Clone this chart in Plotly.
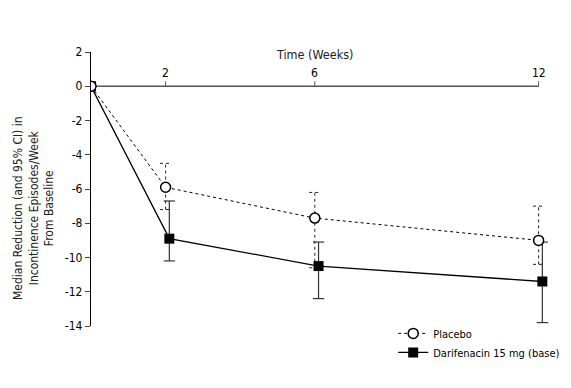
import plotly.graph_objects as go

weeks = [0, 2, 6, 12]
x_ticks = [2, 6, 12]
y_ticks = [2, 0, -2, -4, -6, -8, -10, -12, -14]
y_tick_labels = ["2", "0", "-2", "-4", "-6", "-8", "-10", "-12", "-14"]

placebo = [0, -5.9, -7.7, -9.0]
placebo_hi = [0, -4.5, -6.2, -7.0]
placebo_lo = [0, -7.2, -10.6, -10.4]

drug = [0, -8.9, -10.5, -11.4]
drug_hi = [0, -6.7, -9.1, -9.1]
drug_lo = [0, -10.2, -12.4, -13.8]

drug_offset = 0.1
cap = 0.15

FONT = "Liberation Sans Narrow, DejaVu Sans Condensed, Arial Narrow, sans-serif"

drug_x = [w + (drug_offset if w > 0 else 0) for w in weeks]

fig = go.Figure()

# placebo dashed CI bars
ex, ey = [], []
for w, lo, hi in zip(weeks, placebo_lo, placebo_hi):
    if lo == hi:
        continue
    ex += [w, w, None, w - cap, w + cap, None, w - cap, w + cap, None]
    ey += [lo, hi, None, hi, hi, None, lo, lo, None]
fig.add_trace(go.Scatter(x=ex, y=ey, mode="lines", line=dict(color="#222", width=1, dash="3px,3px"),
                         showlegend=False, hoverinfo="skip"))

# drug CI bars
dx, dy = [], []
for w, lo, hi in zip(drug_x, drug_lo, drug_hi):
    if lo == hi:
        continue
    dx += [w, w, None, w - cap, w + cap, None, w - cap, w + cap, None]
    dy += [lo, hi, None, hi, hi, None, lo, lo, None]
fig.add_trace(go.Scatter(x=dx, y=dy, mode="lines", line=dict(color="#333", width=1.2),
                         showlegend=False, hoverinfo="skip"))

fig.add_trace(go.Scatter(x=drug_x, y=drug, mode="lines+markers", name="Darifenacin 15 mg (base)",
                         line=dict(color="black", width=1.3),
                         marker=dict(symbol="square", size=10, color="black"),
                         legendrank=2))
fig.add_trace(go.Scatter(x=weeks, y=placebo, mode="lines+markers", name="Placebo",
                         line=dict(color="black", width=1, dash="3px,3px"),
                         marker=dict(symbol="circle", size=10, color="white",
                                     line=dict(color="black", width=1.5)),
                         legendrank=1))

# x axis line along y = 0, from 0 to last tick
fig.add_shape(type="line", x0=0, x1=max(x_ticks), y0=0, y1=0, xref="x", yref="y",
              line=dict(color="#555", width=1.5), layer="below")
for t in x_ticks:
    fig.add_shape(type="line", x0=t, x1=t, xref="x", yref="y", ysizemode="pixel",
                  yanchor=0, y0=0, y1=5, line=dict(color="#555", width=1), layer="below")
    fig.add_annotation(x=t, y=0, xref="x", yref="y", text=str(t), showarrow=False,
                       yshift=13, font=dict(family=FONT, size=12, color="black"))

fig.add_annotation(x=6.0, y=2, xref="x", yref="y", text="Time (Weeks)", showarrow=False,
                   yshift=-2, font=dict(family=FONT, size=12.5, color="#222"))

fig.add_annotation(x=-0.121, y=0.431, xref="paper", yref="paper", textangle=-90,
                   xanchor="center", yanchor="middle",
                   text="Median Reduction (and 95% CI) in<br>Incontinence Episodes/Week<br>From Baseline",
                   showarrow=False, font=dict(family=FONT, size=12, color="#222"))

fig.update_layout(
    width=571, height=388,
    margin=dict(l=91, r=10, t=52, b=62, autoexpand=False),
    plot_bgcolor="white", paper_bgcolor="white",
    font=dict(family=FONT, size=12, color="black"),
    xaxis=dict(range=[0, 12.6], showgrid=False, zeroline=False, showline=False,
               showticklabels=False, ticks=""),
    yaxis=dict(range=[-14, 2], tickvals=y_ticks, ticktext=y_tick_labels, showgrid=False,
               zeroline=False, showline=True, linecolor="black", linewidth=1.3,
               ticks="outside", ticklen=5, tickcolor="#444", automargin=False,
               tickfont=dict(family=FONT, size=12, color="black"), ticklabelstandoff=0),
    legend=dict(x=0.643, y=0.026, xanchor="left", yanchor="top", bgcolor="rgba(0,0,0,0)",
                font=dict(family=FONT, size=11, color="black"), itemwidth=30,
                tracegroupgap=0),
    showlegend=True,
)

fig.write_html("out.html", config={"displayModeBar": False},
               post_script="document.body.style.margin='0';")
